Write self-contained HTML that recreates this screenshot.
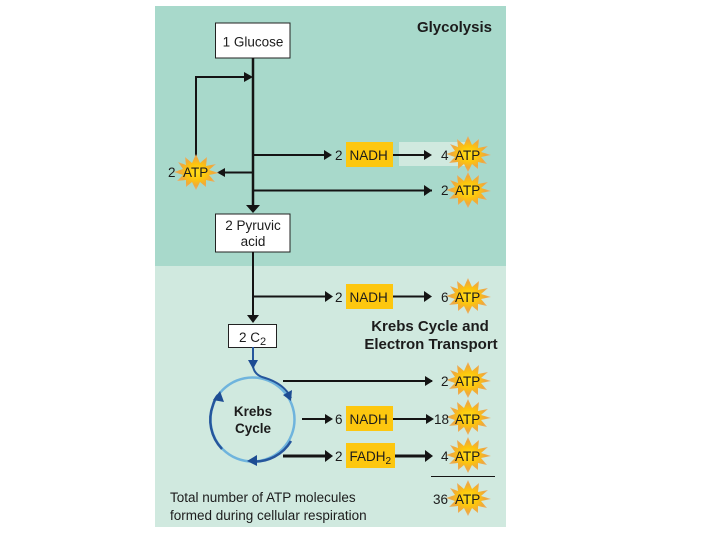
<!DOCTYPE html>
<html>
<head>
<meta charset="utf-8">
<style>
html,body{margin:0;padding:0;background:#fff;width:720px;height:540px;overflow:hidden}
svg{display:block}
text{font-family:"Liberation Sans",sans-serif;fill:#1c1c1c;font-size:13.5px}
.b{font-weight:bold}
.h{font-weight:bold;font-size:15px}
</style>
</head>
<body>
<svg width="720" height="540" viewBox="0 0 720 540" xmlns="http://www.w3.org/2000/svg">
<defs>
<radialGradient id="g" cx="50%" cy="50%" r="50%">
<stop offset="0" stop-color="#ffe01a"/>
<stop offset="0.45" stop-color="#fcc40e"/>
<stop offset="0.75" stop-color="#f0a93a"/>
<stop offset="1" stop-color="#e8b070"/>
</radialGradient>
<polygon id="s" fill="url(#g)" points="0,-18 4,-9 11,-15 10,-6 20,-8 13,-2 23,1 13,3 19,10 10,8 10,15 4,10 0,18 -4,10 -10,15 -10,8 -19,9 -13,3 -22,0 -13,-3 -18,-10 -10,-7 -11,-15 -4,-9"/>
</defs>

<rect x="155" y="6" width="351" height="260" fill="#a8d9cb"/>
<rect x="155" y="266" width="351" height="261" fill="#d0e9df"/>
<rect x="399" y="142" width="68" height="24" fill="#d0e9df"/>

<!-- boxes -->
<rect x="215.5" y="23" width="74.5" height="35" fill="#fff" stroke="#222" stroke-width="1"/>
<rect x="215.5" y="214" width="74.5" height="38" fill="#fff" stroke="#222" stroke-width="1"/>
<rect x="228.500" y="324.500" width="48" height="23" fill="#fff" stroke="#222" stroke-width="1"/>
<text x="253" y="46.500" text-anchor="middle">1 Glucose</text>
<text x="253" y="230" text-anchor="middle">2 Pyruvic</text>
<text x="253" y="246" text-anchor="middle">acid</text>
<text x="239" y="342">2 C<tspan font-size="11" dy="3">2</tspan></text>

<!-- yellow boxes -->
<rect x="346" y="142" width="47" height="25" fill="#fdc70f"/>
<rect x="346" y="284" width="47" height="25" fill="#fdc70f"/>
<rect x="346" y="406" width="47" height="25" fill="#fdc70f"/>
<rect x="346" y="443" width="49" height="25" fill="#fdc70f"/>

<!-- main lines -->
<g stroke="#141414" fill="none">
<path d="M253 58V208" stroke-width="2.500"/>
<path d="M253 252V316" stroke-width="2"/>
<path d="M196 158V77H247" stroke-width="2"/>
<path d="M253 155H327" stroke-width="2"/>
<path d="M253 190.500H432" stroke-width="2"/>
<path d="M253 172.500H224" stroke-width="2"/>
<path d="M253 296.500H327" stroke-width="2"/>
<path d="M393 155H425" stroke-width="2"/>
<path d="M393 296.500H425" stroke-width="2"/>
<path d="M283 381H432" stroke-width="2"/>
<path d="M302 419H329" stroke-width="2"/>
<path d="M393 419H427" stroke-width="2"/>
<path d="M283 456H329" stroke-width="3"/>
<path d="M395 456H427" stroke-width="3"/>
<path d="M431 476.500H495" stroke-width="1"/>
</g>
<g fill="#141414">
<polygon points="253,213 246,205 260,205"/>
<polygon points="253,323 247,315 259,315"/>
<polygon points="253,77 244,72 244,82"/>
<polygon points="217,172.500 225,168 225,177"/>
<polygon points="332,155 324,150 324,160"/>
<polygon points="333,296.500 325,291 325,302"/>
<polygon points="432,155 424,150 424,160"/>
<polygon points="432,190.500 424,185 424,196"/>
<polygon points="432,296.500 424,291 424,302"/>
<polygon points="433,381 425,376 425,386"/>
<polygon points="333,419 325,414 325,424"/>
<polygon points="434,419 426,414 426,424"/>
<polygon points="333,456 325,450 325,462"/>
<polygon points="433,456 425,450 425,462"/>
</g>

<!-- Krebs cycle -->
<circle cx="252.500" cy="419.500" r="42" fill="none" stroke="#6fb4dd" stroke-width="2.500"/>
<path d="M253 347V366Q254 374 262 377Q284 383 291 398" fill="none" stroke="#25569c" stroke-width="2"/>
<path d="M291 441A42 42 0 0 1 252 461.500" fill="none" stroke="#25569c" stroke-width="2.500"/>
<path d="M222 449A42 42 0 0 1 213 405Q215 398 218 395" fill="none" stroke="#25569c" stroke-width="2.500"/>
<g fill="#1d4c93">
<polygon points="253,369 248,360 258,360"/>
<polygon points="291,401 283,395 292,390"/>
<polygon points="247,461 257,455 257,466"/>
<polygon points="220,391 224,402 213,400"/>
</g>
<text class="b" x="253" y="416" text-anchor="middle">Krebs</text>
<text class="b" x="253" y="433" text-anchor="middle">Cycle</text>

<!-- stars -->
<use href="#s" x="196" y="172"/>
<use href="#s" x="468" y="154"/>
<use href="#s" x="468" y="190"/>
<use href="#s" x="468" y="296"/>
<use href="#s" x="468" y="380"/>
<use href="#s" x="468" y="417"/>
<use href="#s" x="468" y="455"/>
<use href="#s" x="468" y="498"/>

<!-- labels -->
<text x="168" y="177">2</text><text x="183" y="177">ATP</text>
<text x="335" y="160">2</text><text x="349.500" y="160">NADH</text>
<text x="441" y="160">4</text><text x="455" y="160">ATP</text>
<text x="441" y="195">2</text><text x="455" y="195">ATP</text>
<text x="335" y="302">2</text><text x="349.500" y="302">NADH</text>
<text x="441" y="302">6</text><text x="455" y="302">ATP</text>
<text x="441" y="386">2</text><text x="455" y="386">ATP</text>
<text x="335" y="424">6</text><text x="349.500" y="424">NADH</text>
<text x="434" y="424">18</text><text x="455" y="424">ATP</text>
<text x="335" y="461">2</text><text x="349.500" y="461">FADH<tspan font-size="10" dy="3">2</tspan></text>
<text x="441" y="461">4</text><text x="455" y="461">ATP</text>
<text x="433" y="504">36</text><text x="455" y="504">ATP</text>

<text class="h" x="492" y="32" text-anchor="end">Glycolysis</text>
<text class="h" x="430" y="331" text-anchor="middle">Krebs Cycle and</text>
<text class="h" x="431" y="349" text-anchor="middle">Electron Transport</text>
<text x="170" y="502">Total number of ATP molecules</text>
<text x="170" y="520">formed during cellular respiration</text>
</svg>
</body>
</html>
